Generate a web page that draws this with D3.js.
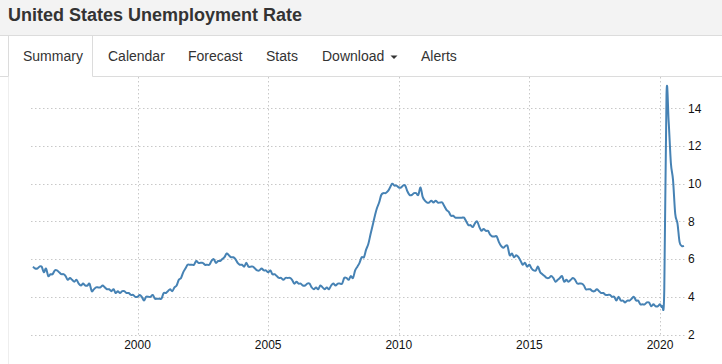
<!DOCTYPE html>
<html>
<head>
<meta charset="utf-8">
<script src="https://cdn.jsdelivr.net/npm/d3@7"></script>
<style>
  body { margin: 0; background: #fff; }
  svg { display: block; font-family: "Liberation Sans", Arial, sans-serif; }
  .grid line { stroke: #c8c8c8; stroke-dasharray: 1.5 2.5; }
  .tick-label { font-size: 12px; fill: #111; }
  .tab { font-size: 14px; fill: #333; }
</style>
</head>
<body>
<div id="chart"></div>
<script>
const chartTitle = "United States Unemployment Rate";
const tabs = ["Summary", "Calendar", "Forecast", "Stats", "Download", "Alerts"];
const startYear = 1996;
// monthly rate, Jan 1996 .. Dec 2020, one row per year
const rates1996_2000 = [
  5.6, 5.5, 5.5, 5.6, 5.6, 5.3, 5.5, 5.1, 5.2, 5.2, 5.4, 5.4,
  5.3, 5.2, 5.2, 5.1, 4.9, 5.0, 4.9, 4.8, 4.9, 4.7, 4.6, 4.7,
  4.6, 4.6, 4.7, 4.3, 4.4, 4.5, 4.5, 4.5, 4.6, 4.5, 4.4, 4.4,
  4.3, 4.4, 4.2, 4.3, 4.2, 4.3, 4.3, 4.2, 4.2, 4.1, 4.1, 4.0,
  4.0, 4.1, 4.0, 3.8, 4.0, 4.0, 4.0, 4.1, 3.9, 3.9, 3.9, 3.9
];
const rates2001_2005 = [
  4.2, 4.2, 4.3, 4.4, 4.3, 4.5, 4.6, 4.9, 5.0, 5.3, 5.5, 5.7,
  5.7, 5.7, 5.7, 5.9, 5.8, 5.8, 5.8, 5.7, 5.7, 5.7, 5.9, 6.0,
  5.8, 5.9, 5.9, 6.0, 6.1, 6.3, 6.2, 6.1, 6.1, 6.0, 5.8, 5.7,
  5.7, 5.6, 5.8, 5.6, 5.6, 5.6, 5.5, 5.4, 5.4, 5.5, 5.4, 5.4,
  5.3, 5.4, 5.2, 5.2, 5.1, 5.0, 5.0, 4.9, 5.0, 5.0, 5.0, 4.9
];
const rates2006_2010 = [
  4.7, 4.8, 4.7, 4.7, 4.6, 4.6, 4.7, 4.7, 4.5, 4.4, 4.5, 4.4,
  4.6, 4.5, 4.4, 4.5, 4.4, 4.6, 4.7, 4.6, 4.7, 4.7, 4.7, 5.0,
  5.0, 4.9, 5.1, 5.0, 5.4, 5.6, 5.8, 6.1, 6.1, 6.5, 6.8, 7.3,
  7.8, 8.3, 8.7, 9.0, 9.4, 9.5, 9.5, 9.6, 9.8, 10.0, 9.9, 9.9,
  9.8, 9.8, 9.9, 9.9, 9.6, 9.4, 9.4, 9.5, 9.5, 9.4, 9.8, 9.3
];
const rates2011_2015 = [
  9.1, 9.0, 9.0, 9.1, 9.0, 9.1, 9.0, 9.0, 9.0, 8.8, 8.6, 8.5,
  8.3, 8.3, 8.2, 8.2, 8.2, 8.2, 8.2, 8.0, 7.8, 7.8, 7.7, 7.9,
  8.0, 7.7, 7.5, 7.6, 7.5, 7.5, 7.3, 7.2, 7.2, 7.2, 6.9, 6.7,
  6.6, 6.7, 6.7, 6.2, 6.3, 6.1, 6.2, 6.1, 5.9, 5.7, 5.8, 5.6,
  5.7, 5.5, 5.4, 5.4, 5.6, 5.3, 5.2, 5.1, 5.0, 5.0, 5.1, 5.0
];
const rates2016_2020 = [
  4.8, 4.9, 5.0, 5.1, 4.8, 4.9, 4.8, 4.9, 5.0, 4.9, 4.7, 4.7,
  4.7, 4.6, 4.4, 4.4, 4.4, 4.3, 4.3, 4.4, 4.3, 4.2, 4.2, 4.1,
  4.1, 4.1, 4.0, 4.0, 3.8, 4.0, 3.8, 3.8, 3.7, 3.8, 3.8, 3.9,
  4.0, 3.8, 3.8, 3.6, 3.6, 3.6, 3.7, 3.7, 3.5, 3.6, 3.5, 3.5,
  3.6, 3.5, 4.4, 14.7, 13.3, 11.1, 10.2, 8.4, 7.9, 6.9, 6.7, 6.7
];
const yTicks = [2, 4, 6, 8, 10, 12, 14];
const xTickYears = [2000, 2005, 2010, 2015, 2020];

const rates = [].concat(rates1996_2000, rates2001_2005, rates2006_2010, rates2011_2015, rates2016_2020);
const data = rates.map((v, i) => ({ date: new Date(startYear, i, 1), value: v }));

const W = 722, H = 364;
const plot = { left: 31, right: 686, top: 77, bottom: 337 };

const svg = d3.select("#chart").append("svg").attr("width", W).attr("height", H);

// ---- page header ----
svg.append("rect").attr("width", W).attr("height", 35).attr("fill", "#f3f3f3");
svg.append("line").attr("x1", 0).attr("x2", W).attr("y1", 35.5).attr("y2", 35.5).attr("stroke", "#dcdcdc");
svg.append("text")
  .attr("x", 8).attr("y", 20.5)
  .attr("font-size", 18).attr("font-weight", "bold").attr("fill", "#333")
  .text(chartTitle);

// ---- tab bar ----
const tabX = [23, 108, 188, 266, 322, 421];
svg.append("line").attr("x1", 0).attr("x2", 8.5).attr("y1", 76.5).attr("y2", 76.5).attr("stroke", "#dcdcdc");
svg.append("line").attr("x1", 92.5).attr("x2", W).attr("y1", 76.5).attr("y2", 76.5).attr("stroke", "#dcdcdc");
svg.append("path").attr("d", "M8.5,76.5V35.5H92.5V76.5").attr("fill", "none").attr("stroke", "#dcdcdc");
svg.append("line").attr("x1", 8.5).attr("x2", 8.5).attr("y1", 77).attr("y2", H).attr("stroke", "#eeeeee");

svg.selectAll(".tab").data(tabs).join("text")
  .attr("class", "tab")
  .attr("x", (d, i) => tabX[i]).attr("y", 61)
  .text(d => d);
// dropdown caret next to "Download"
svg.append("path").attr("d", "M390.5,55.5h7l-3.5,3.5z").attr("fill", "#333");

// ---- scales ----
const x = d3.scaleTime()
  .domain([new Date(startYear, 0, 1), new Date(2020, 0, 1)])
  .range([33, 660]);
const y = d3.scaleLinear().domain([2, 14]).range([334.5, 108.3]);

// grid
const grid = svg.append("g").attr("class", "grid");
grid.selectAll(".hy").data(yTicks).join("line")
  .attr("x1", plot.left).attr("x2", plot.right)
  .attr("y1", d => Math.round(y(d)) + 0.5).attr("y2", d => Math.round(y(d)) + 0.5);
grid.selectAll(".vx").data(xTickYears).join("line")
  .attr("x1", d => Math.round(x(new Date(d, 0, 1))) + 0.5)
  .attr("x2", d => Math.round(x(new Date(d, 0, 1))) + 0.5)
  .attr("y1", plot.top).attr("y2", plot.bottom);

// tick labels
svg.selectAll(".ylab").data(yTicks).join("text")
  .attr("class", "tick-label")
  .attr("x", 688).attr("y", d => y(d)).attr("dy", "0.35em")
  .text(d => d);
svg.selectAll(".xlab").data(xTickYears).join("text")
  .attr("class", "tick-label")
  .attr("x", d => x(new Date(d, 0, 1))).attr("y", 349)
  .attr("text-anchor", "middle")
  .text(d => d);

// the series
const line = d3.line()
  .x(d => x(d.date))
  .y(d => y(d.value))
  .curve(d3.curveCardinal.tension(0));
svg.append("path")
  .datum(data)
  .attr("fill", "none")
  .attr("stroke", "#4682b4")
  .attr("stroke-width", 2)
  .attr("stroke-linejoin", "round")
  .attr("d", line);
</script>
</body>
</html>
